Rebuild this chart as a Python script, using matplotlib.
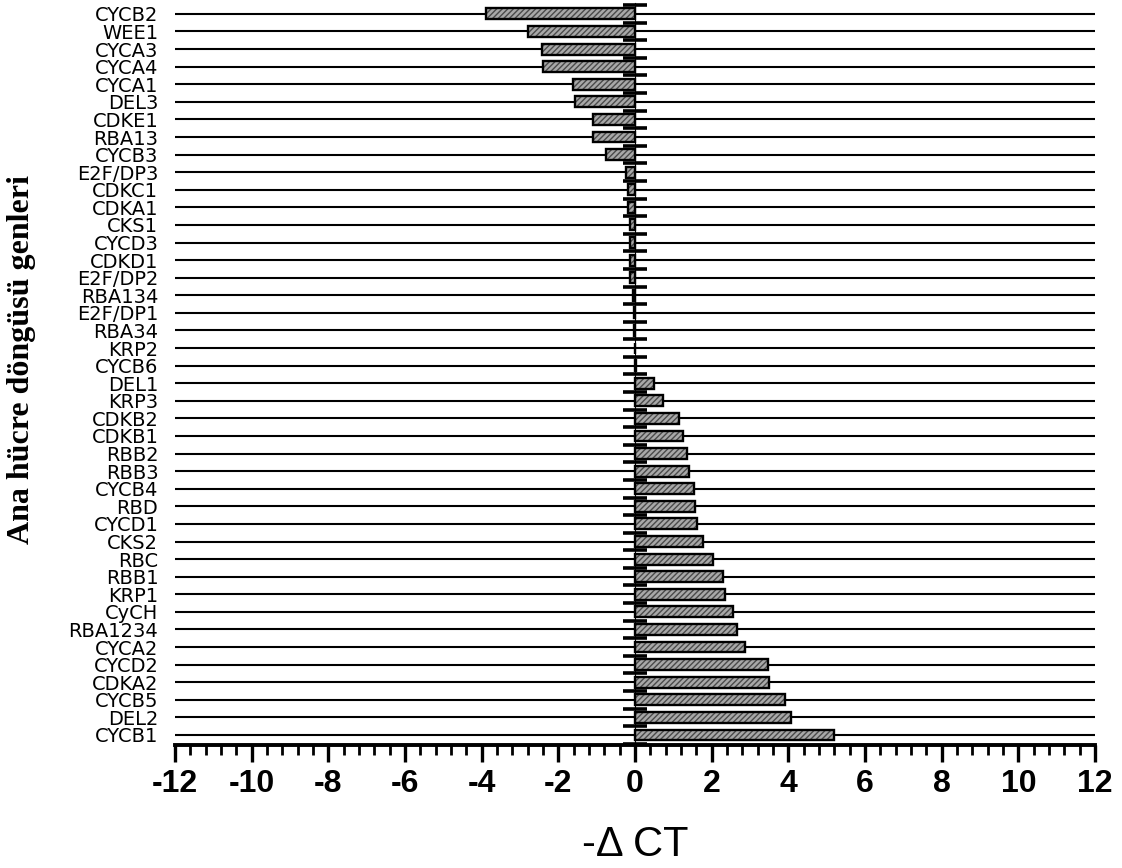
import matplotlib
matplotlib.use("Agg")
import matplotlib.pyplot as plt
from matplotlib.ticker import MultipleLocator
import numpy as np

plt.rcParams['axes.unicode_minus'] = False
plt.rcParams['hatch.linewidth'] = 1.0

genes = ["CYCB2", "WEE1", "CYCA3", "CYCA4", "CYCA1", "DEL3", "CDKE1", "RBA13",
         "CYCB3", "E2F/DP3", "CDKC1", "CDKA1", "CKS1", "CYCD3", "CDKD1", "E2F/DP2",
         "RBA134", "E2F/DP1", "RBA34", "KRP2", "CYCB6", "DEL1", "KRP3", "CDKB2",
         "CDKB1", "RBB2", "RBB3", "CYCB4", "RBD", "CYCD1", "CKS2", "RBC", "RBB1",
         "KRP1", "CyCH", "RBA1234", "CYCA2", "CYCD2", "CDKA2", "CYCB5", "DEL2", "CYCB1"]
delta_ct = [-3.89, -2.80, -2.43, -2.39, -1.62, -1.56, -1.10, -1.10,
            -0.75, -0.23, -0.19, -0.19, -0.13, -0.13, -0.13, -0.13,
            -0.05, -0.03, -0.02, 0.0, 0.02, 0.50, 0.74, 1.16,
            1.26, 1.36, 1.41, 1.53, 1.57, 1.62, 1.77, 2.03, 2.30,
            2.35, 2.56, 2.65, 2.87, 3.48, 3.50, 3.92, 4.07, 5.18]
xticks = [-12, -10, -8, -6, -4, -2, 0, 2, 4, 6, 8, 10, 12]

n = len(genes)
ypos = np.arange(n)[::-1]

fig = plt.figure(figsize=(11.22, 8.68), dpi=100)
ax = fig.add_axes([175/1122, 123/868, (1095-175)/1122, (745-3)/868])

ax.set_axisbelow(True)
ax.yaxis.grid(True, color='black', linewidth=1.5)
ax.barh(ypos, delta_ct, height=0.62, color='#a8a8a8', edgecolor='#4a4a4a',
        hatch='//////', linewidth=0, zorder=2)
ax.barh(ypos, delta_ct, height=0.62, fill=False, edgecolor='black',
        linewidth=1.7, zorder=3)

ax.set_xlim(xticks[0], xticks[-1])
ax.set_ylim(-0.57, n - 1 + 0.62)

ax.set_yticks(ypos)
ax.set_yticklabels(genes, fontsize=14, family='DejaVu Sans')
ax.tick_params(axis='y', length=0, pad=12)

ax.set_xticks(xticks)
ax.set_xticklabels([str(t) for t in xticks], fontsize=23, fontweight='bold',
                   family='Liberation Sans')
ax.xaxis.set_minor_locator(MultipleLocator(0.4))
ax.tick_params(axis='x', which='major', direction='out', length=12.5, width=2.4, pad=5)
ax.tick_params(axis='x', which='minor', direction='out', length=7.5, width=2.0)

for s in ['top', 'right', 'left']:
    ax.spines[s].set_visible(False)
ax.spines['bottom'].set_linewidth(2.8)

# central y axis at x = 0
sec = ax.secondary_yaxis(0.5)
sec.set_yticks(np.arange(-0.5, n, 1.0))
sec.tick_params(axis='y', direction='inout', length=17, width=2.6, labelleft=False,
                labelright=False)
sec.spines['left'].set_linewidth(3.6)
sec.set_zorder(4)

fig.text(635/1122, 1 - 845/868, "-Δ CT", fontsize=30, family='Liberation Sans',
         ha='center', va='center')
fig.text(22/1122, 1 - 360/868, "Ana hücre döngüsü genleri", fontsize=23,
         fontweight='bold', family='Liberation Serif', rotation=90,
         ha='center', va='center')

fig.savefig("out.png", dpi=100)
